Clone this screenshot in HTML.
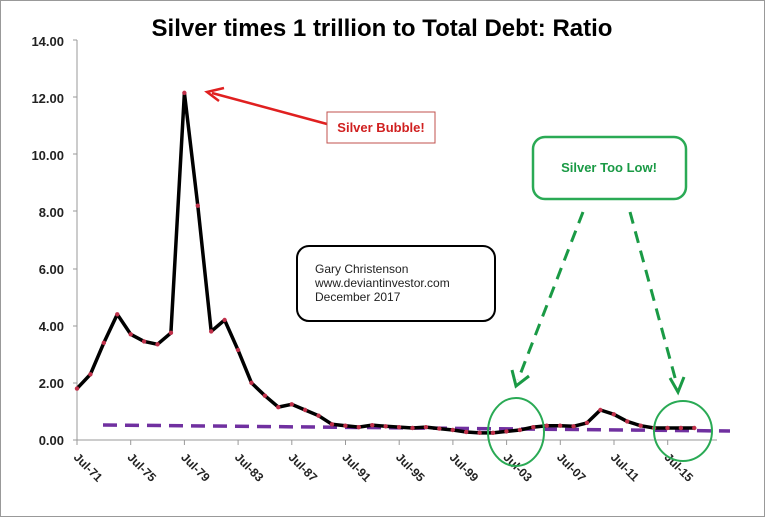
<!DOCTYPE html>
<html><head><meta charset="utf-8"><style>
html,body{margin:0;padding:0;background:#fff;}
svg{display:block;}
text{font-family:"Liberation Sans",sans-serif;}
</style></head><body>
<svg width="765" height="517" viewBox="0 0 765 517" xmlns="http://www.w3.org/2000/svg">
<rect x="0.5" y="0.5" width="764" height="516" fill="#fff" stroke="#999"/>
<text x="382" y="36" text-anchor="middle" font-size="24" font-weight="bold" fill="#000">Silver times 1 trillion to Total Debt: Ratio</text>
<g font-size="13" font-weight="bold" fill="#222" text-anchor="end">
<text x="64" y="445">0.00</text><text x="64" y="388">2.00</text><text x="64" y="331">4.00</text>
<text x="64" y="274">6.00</text><text x="64" y="217">8.00</text><text x="64" y="160">10.00</text>
<text x="64" y="103">12.00</text><text x="64" y="46">14.00</text>
</g>
<line x1="77" y1="40" x2="77" y2="440" stroke="#999"/>
<line x1="77" y1="440" x2="717" y2="440" stroke="#999"/>
<g stroke="#999">
<line x1="73" y1="440" x2="77" y2="440"/><line x1="73" y1="383" x2="77" y2="383"/><line x1="73" y1="326" x2="77" y2="326"/><line x1="73" y1="269" x2="77" y2="269"/><line x1="73" y1="211" x2="77" y2="211"/><line x1="73" y1="154" x2="77" y2="154"/><line x1="73" y1="97" x2="77" y2="97"/><line x1="73" y1="40" x2="77" y2="40"/>
</g>
<g font-size="12" font-weight="bold" fill="#222" id="xl"></g>
<line x1="103" y1="425" x2="730" y2="431" stroke="#7030a0" stroke-width="3.5" stroke-dasharray="14,8"/>
<polyline id="ln" fill="none" stroke="#000" stroke-width="3.5" stroke-linejoin="round"/>
<g id="mk" fill="#c0304a"></g>
<!-- annotations -->
<line x1="327" y1="124" x2="212" y2="93" stroke="#e02020" stroke-width="2.5"/>
<polyline points="224,88 207,92 219,101" fill="none" stroke="#e02020" stroke-width="2.5"/>
<rect x="327" y="112" width="108" height="31" fill="#fff" stroke="#c0504d"/>
<text x="381" y="132" text-anchor="middle" font-size="13" font-weight="bold" fill="#d02020">Silver Bubble!</text>
<rect x="533" y="137" width="153" height="62" rx="12" fill="#fff" stroke="#2aaa55" stroke-width="2.5"/>
<text x="609" y="172" text-anchor="middle" font-size="13" font-weight="bold" fill="#1a9a45">Silver Too Low!</text>
<line x1="583" y1="212" x2="518" y2="380" stroke="#1a9a45" stroke-width="3" stroke-dasharray="12,8"/>
<polyline points="512,370 516,386 529,376" fill="none" stroke="#1a9a45" stroke-width="3"/>
<line x1="630" y1="212" x2="677" y2="385" stroke="#1a9a45" stroke-width="3" stroke-dasharray="12,8"/>
<polyline points="670,378 678,392 684,377" fill="none" stroke="#1a9a45" stroke-width="3"/>
<ellipse cx="516" cy="432" rx="28" ry="34" fill="none" stroke="#2aaa55" stroke-width="2"/>
<ellipse cx="683" cy="431" rx="29" ry="30" fill="none" stroke="#2aaa55" stroke-width="2"/>
<rect x="297" y="246" width="198" height="75" rx="12" fill="#fff" stroke="#000" stroke-width="2"/>
<g font-size="12" fill="#222"><text x="315" y="273">Gary Christenson</text><text x="315" y="287">www.deviantinvestor.com</text><text x="315" y="301">December 2017</text></g>
</svg>
<script>
var d=[1.8,2.3,3.4,4.4,3.7,3.45,3.35,3.75,12.15,8.2,3.8,4.2,3.15,2.0,1.55,1.15,1.25,1.05,0.85,0.55,0.5,0.45,0.52,0.48,0.45,0.42,0.45,0.4,0.35,0.28,0.25,0.25,0.3,0.35,0.45,0.5,0.5,0.48,0.6,1.05,0.9,0.65,0.5,0.42,0.42,0.42,0.42];
var ns="http://www.w3.org/2000/svg",pts=[],mk=document.getElementById('mk');
d.forEach(function(v,i){var x=77+i*13.42,y=440-v*28.57;pts.push(x.toFixed(1)+","+y.toFixed(1));
var c=document.createElementNS(ns,'circle');c.setAttribute('cx',x);c.setAttribute('cy',y);c.setAttribute('r',2.2);mk.appendChild(c);});
document.getElementById('ln').setAttribute('points',pts.join(' '));
var xl=document.getElementById('xl'),lab=['Jul-71','Jul-75','Jul-79','Jul-83','Jul-87','Jul-91','Jul-95','Jul-99','Jul-03','Jul-07','Jul-11','Jul-15'];
lab.forEach(function(s,i){var x=77+i*53.7;var t=document.createElementNS(ns,'text');t.setAttribute('x',x-4);t.setAttribute('y',458);
t.setAttribute('transform','rotate(45 '+(x-4)+' 458)');t.textContent=s;xl.appendChild(t);
var l=document.createElementNS(ns,'line');l.setAttribute('x1',x);l.setAttribute('x2',x);l.setAttribute('y1',440);l.setAttribute('y2',445);l.setAttribute('stroke','#999');xl.appendChild(l);});
</script>
</body></html>
